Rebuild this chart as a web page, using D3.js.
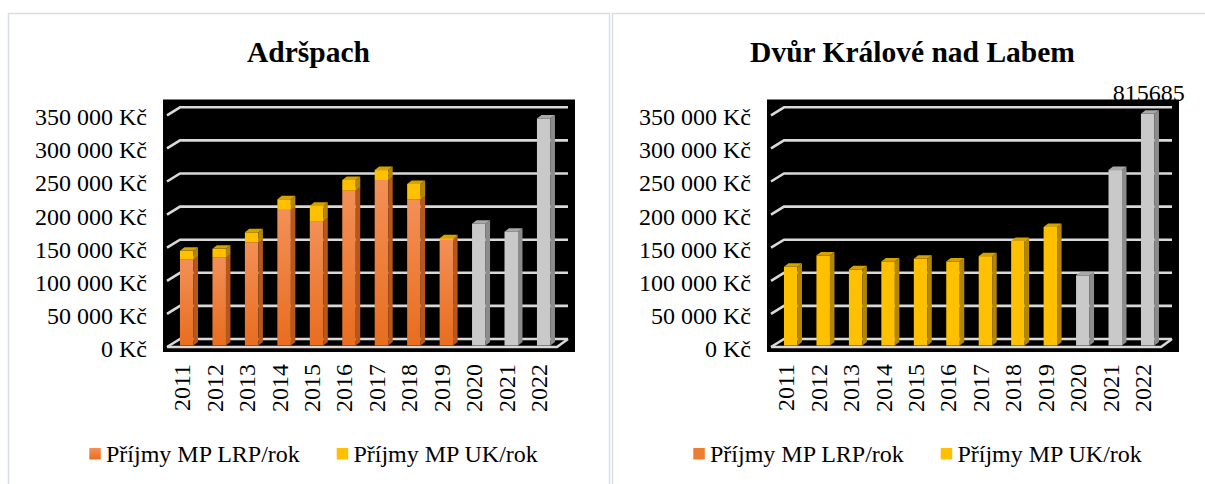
<!DOCTYPE html>
<html>
<head>
<meta charset="utf-8">
<script src="https://cdn.jsdelivr.net/npm/d3@7"></script>
<style>
  body { margin: 0; background: #fff; }
  svg text { font-family: "Liberation Serif", "Times New Roman", serif; fill: #000; }
</style>
</head>
<body>
<svg id="chart" width="1205" height="484"></svg>
<script>
// categories + tick values
const years = ["2011","2012","2013","2014","2015","2016","2017","2018","2019","2020","2021","2022"];
const yTicks = [0, 50000, 100000, 150000, 200000, 250000, 300000, 350000];
const seriesNames = ["Příjmy MP LRP/rok", "Příjmy MP UK/rok"];

// Adršpach
const adrLRP   = [130000, 133000, 156000, 205000, 188000, 234000, 250000, 221000, 160000, 0, 0, 0];
const adrUK    = [13000, 13000, 15000, 16000, 23000, 16000, 15000, 23000, 2000, 0, 0, 0];
const adrOther = [0, 0, 0, 0, 0, 0, 0, 0, 0, 184000, 172000, 343000];

// Dvůr Králové nad Labem
const dkLRP   = [0, 0, 0, 0, 0, 0, 0, 0, 0, 0, 0, 0];
const dkUK    = [119000, 136000, 115000, 127000, 131000, 127000, 135000, 158000, 179000, 0, 0, 0];
const dkOther = [0, 0, 0, 0, 0, 0, 0, 0, 0, 106000, 265000, 815685];

const svg = d3.select("#chart");
const defs = svg.append("defs");

//orange gradient for the LRP front faces
const grad = defs.append("linearGradient").attr("id", "orangeGrad")
    .attr("x1", 0).attr("y1", 0).attr("x2", 0).attr("y2", 1);
grad.append("stop").attr("offset", "0%").attr("stop-color", "#f39057");
grad.append("stop").attr("offset", "100%").attr("stop-color", "#e86d1f");

const colors = {
    lrp:   {front: "url(#orangeGrad)", side: "#b6581e", top: "#d97a3a"},
    uk:    {front: "#ffc000", side: "#b38700", top: "#d6a200"},
    other: {front: "#c9c9c9", side: "#8c8c8c", top: "#a9a9a9"}
};

const yMax = 350000;
const depthX = 4.5, depthY = 3.5, barW = 13.5;

function drawChart(ox, title, lrp, uk, other, flatLegend) {
    const g = svg.append("g");

    //panel border
    g.append("rect")
        .attr("x", ox + 8.5).attr("y", 13.5)
        .attr("width", ox === 0 ? 601 : 600).attr("height", 480)
        .attr("fill", "none").attr("stroke", "#d9dde4").attr("stroke-width", 1.5);

    g.append("text")
        .attr("x", ox + 308.5).attr("y", 62)
        .attr("text-anchor", "middle")
        .style("font-size", "29.5px").style("font-weight", "bold")
        .text(title);

    const yBack = d3.scaleLinear().domain([0, yMax]).range([339, 107.3]);
    const yBar = d3.scaleLinear().domain([0, yMax]).range([345.5, 113.8]).clamp(true);
    const x = d3.scalePoint().domain(years).range([ox + 186.75, ox + 543.7]);

    //data label for the clipped bar (drawn under the plot area)
    other.forEach((v, i) => {
        if (v > yMax) {
            g.append("text")
                .attr("x", x(years[i]) + 1).attr("y", 101)
                .attr("text-anchor", "middle")
                .style("font-size", "24px")
                .text(v);
        }
    });

    //black plot area
    g.append("rect")
        .attr("x", ox + 163).attr("y", 99.5)
        .attr("width", 412).attr("height", 252.5)
        .attr("fill", "#000");

    //gridlines with the 3d diagonal on the left
    const grid = g.append("g").attr("fill", "none").attr("stroke", "#d9d9d9").attr("stroke-width", 2.6);
    yTicks.forEach(v => {
        grid.append("path")
            .attr("d", `M${ox + 167},${yBack(v) + 8}L${ox + 180},${yBack(v)}L${ox + 568},${yBack(v)}`);
    });
    grid.append("path")
        .attr("d", `M${ox + 167},${yBack(0) + 8}L${ox + 557},${yBack(0) + 8}L${ox + 568},${yBack(0)}`);

    //y labels
    g.append("g")
        .attr("text-anchor", "end")
        .style("font-size", "24px")
        .selectAll("text")
        .data(yTicks)
        .join("text")
            .attr("x", ox + 147)
            .attr("y", v => yBack(v) + 9.5)
            .attr("dy", "0.35em")
            .text(v => d3.format(",")(v).replace(/,/g, " ") + " Kč");

    //bars, stacked lrp -> uk, gray other
    const bars = g.append("g");
    years.forEach((yr, i) => {
        const segs = [];
        let base = 0;
        [["lrp", lrp[i]], ["uk", uk[i]], ["other", other[i]]].forEach(([key, val]) => {
            if (val > 0) {
                segs.push({key: key, y0: base, y1: base + val});
                base += val;
            }
        });
        const cx = x(yr);
        const x0 = cx - barW / 2, x1 = cx + barW / 2;
        segs.forEach(s => {
            const c = colors[s.key];
            const yt = yBar(s.y1), yb = yBar(s.y0);
            bars.append("rect")
                .attr("x", x0).attr("y", yt)
                .attr("width", barW).attr("height", Math.max(0, yb - yt))
                .attr("fill", c.front);
            bars.append("path")
                .attr("d", `M${x1},${yt}L${x1 + depthX},${yt - depthY}L${x1 + depthX},${yb - depthY}L${x1},${yb}Z`)
                .attr("fill", c.side);
            bars.append("path")
                .attr("d", `M${x0},${yt}L${x0 + depthX},${yt - depthY}L${x1 + depthX},${yt - depthY}L${x1},${yt}Z`)
                .attr("fill", c.top);
        });
    });

    //x labels
    g.append("g")
        .attr("text-anchor", "end")
        .style("font-size", "24px")
        .selectAll("text")
        .data(years)
        .join("text")
            .attr("transform", d => `translate(${x(d) - 5},364) rotate(-90)`)
            .attr("dy", "0.35em")
            .text(d => d);

    //legend
    const legX = [ox + 89.3, ox + 336.7];
    const legFill = [flatLegend ? "#ed7d31" : "url(#orangeGrad)", "#ffc000"];
    seriesNames.forEach((name, k) => {
        g.append("rect")
            .attr("x", legX[k]).attr("y", 448)
            .attr("width", 11.5).attr("height", 11.5)
            .attr("fill", legFill[k]);
        g.append("text")
            .attr("x", legX[k] + 16.7).attr("y", 461.5)
            .style("font-size", "24px")
            .text(name);
    });
}

drawChart(0, "Adršpach", adrLRP, adrUK, adrOther, false);
drawChart(604, "Dvůr Králové nad Labem", dkLRP, dkUK, dkOther, true);
</script>
</body>
</html>
